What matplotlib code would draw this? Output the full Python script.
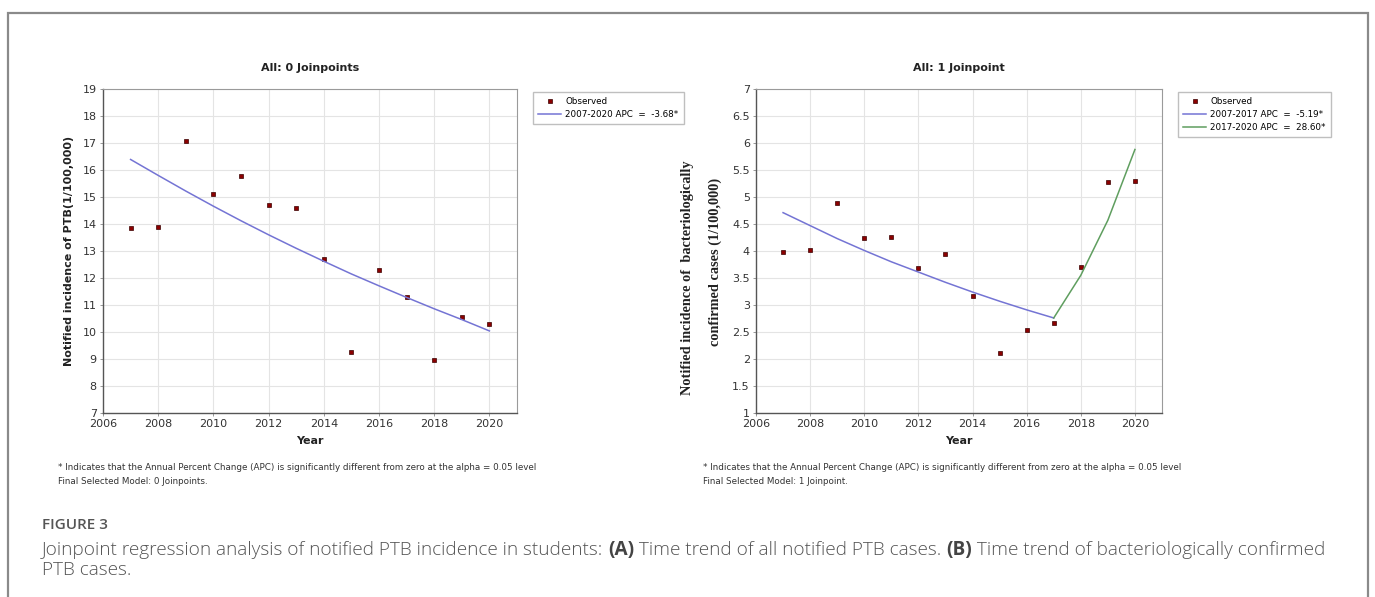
import numpy as np
import matplotlib
matplotlib.use('Agg')
import matplotlib.pyplot as plt
from matplotlib.patches import Rectangle

W, H = 1375, 597

years = [2007, 2008, 2009, 2010, 2011, 2012, 2013, 2014, 2015, 2016, 2017, 2018, 2019, 2020]

# panel A: all notified PTB
obs_a = [13.87, 13.9, 17.09, 15.1, 15.79, 14.69, 14.58, 12.69, 9.27, 12.28, 11.3, 8.97, 10.55, 10.3]
fit_a = [16.39, 15.8, 15.22, 14.66, 14.12, 13.6, 13.1, 12.62, 12.15, 11.71, 11.28, 10.86, 10.46, 10.04]
lab_a = '2007-2020 APC  =  -3.68*'

# panel B: bacteriologically confirmed
obs_b = [3.99, 4.02, 4.89, 4.25, 4.26, 3.68, 3.95, 3.16, 2.12, 2.54, 2.66, 3.71, 5.28, 5.30]
fit_b1_years = [2007, 2008, 2009, 2010, 2011, 2012, 2013, 2014, 2015, 2016, 2017]
fit_b1 = [4.71, 4.47, 4.23, 4.01, 3.80, 3.61, 3.42, 3.24, 3.07, 2.91, 2.76]
fit_b2_years = [2017, 2018, 2019, 2020]
fit_b2 = [2.76, 3.55, 4.57, 5.88]
lab_b1 = '2007-2017 APC  =  -5.19*'
lab_b2 = '2017-2020 APC  =  28.60*'

foot1 = '* Indicates that the Annual Percent Change (APC) is significantly different from zero at the alpha = 0.05 level'

fig = plt.figure(figsize=(W/100, H/100), dpi=100)

def fx(px): return px/W
def fy(py): return 1 - py/H

# outer frame
fig.patches.append(Rectangle((fx(8), fy(H+5)), fx(1368)-fx(8), fy(13)-fy(H+5),
                             transform=fig.transFigure, fill=False, ec='#8a8a8a', lw=1.6))

def style_axes(ax, ylim, yticks, ytl):
    ax.set_xlim(2006, 2021)
    ax.set_ylim(*ylim)
    ax.set_xticks(range(2006, 2021, 2))
    ax.set_yticks(yticks)
    ax.set_yticklabels(ytl)
    ax.grid(True, color='#e4e4e4', lw=0.8)
    ax.set_axisbelow(True)
    for s in ['top', 'right']:
        ax.spines[s].set_color('#9a9a9a'); ax.spines[s].set_linewidth(0.8)
    for s in ['left', 'bottom']:
        ax.spines[s].set_color('#555555'); ax.spines[s].set_linewidth(1.0)
    ax.tick_params(length=2.5, width=0.6, color='#888888', labelsize=8, labelcolor='#333333', pad=2)
    ax.set_xlabel('Year', fontsize=8, fontweight='bold', color='#222222', labelpad=5)

mk = dict(marker='s', ms=3.2, mfc='#8b0000', mec='#3a0000', mew=0.5, ls='none')
leg_kw = dict(loc='upper left', bbox_transform=fig.transFigure, borderaxespad=0, fontsize=6.3,
              frameon=True, fancybox=False, edgecolor='#b0b0b0', handlelength=2.6, handletextpad=0.5,
              labelspacing=0.45, borderpad=0.6, markerscale=0.8)

# ---- panel A
axA = fig.add_axes([fx(103), fy(413), fx(517)-fx(103), fy(89)-fy(413)])
axA.plot(years, obs_a, label='Observed', **mk)
axA.plot(years, fit_a, color='#7474d4', lw=1.1, label=lab_a)
style_axes(axA, (7, 19), range(7, 20), [str(v) for v in range(7, 20)])
axA.set_ylabel('Notified incidence of PTB(1/100,000)', fontsize=8, fontweight='bold', color='#222222', labelpad=6)
axA.legend(bbox_to_anchor=(fx(533), fy(92)), **leg_kw)
fig.text(fx(310), fy(68), 'All: 0 Joinpoints', ha='center', va='center', fontsize=8, fontweight='bold', color='#222222')

# ---- panel B
axB = fig.add_axes([fx(756), fy(413), fx(1162)-fx(756), fy(89)-fy(413)])
axB.plot(years, obs_b, label='Observed', **mk)
axB.plot(fit_b1_years, fit_b1, color='#7474d4', lw=1.1, label=lab_b1)
axB.plot(fit_b2_years, fit_b2, color='#5f9e5f', lw=1.1, label=lab_b2)
yb = np.arange(1, 7.01, 0.5)
style_axes(axB, (1, 7), yb, ['%g' % v for v in yb])
axB.legend(bbox_to_anchor=(fx(1178), fy(92)), **leg_kw)
fig.text(fx(959), fy(68), 'All: 1 Joinpoint', ha='center', va='center', fontsize=8, fontweight='bold', color='#222222')
fig.text(fx(688), fy(278), 'Notified incidence of  bacteriologically', rotation=90, ha='center', va='center',
         fontsize=10.3, fontweight='bold', family='Liberation Serif', color='#222222')
fig.text(fx(715), fy(262), 'confirmed cases (1/100,000)', rotation=90, ha='center', va='center',
         fontsize=10.3, fontweight='bold', family='Liberation Serif', color='#222222')

# footnotes
for x0, model in [(58, 'Final Selected Model: 0 Joinpoints.'), (703, 'Final Selected Model: 1 Joinpoint.')]:
    fig.text(fx(x0), fy(467), foot1, ha='left', va='center', fontsize=6.3, family='Liberation Sans Narrow', color='#333333')
    fig.text(fx(x0), fy(482), model, ha='left', va='center', fontsize=6.3, family='Liberation Sans Narrow', color='#333333')

# caption
fig.text(fx(42), fy(525), 'FIGURE 3', ha='left', va='center', fontsize=11, fontweight='semibold',
         family='Open Sans', color='#555555')

renderer = fig.canvas.get_renderer()
def rich_line(x0, y0, parts, size):
    x = fx(x0)
    for txt, bold in parts:
        t = fig.text(x, fy(y0), txt, ha='left', va='center', fontsize=size, family='Open Sans',
                     fontweight='bold' if bold else 'light', color='#555555' if not bold else '#444444')
        bb = t.get_window_extent(renderer=renderer)
        x = fig.transFigure.inverted().transform((bb.x1, bb.y0))[0]

cap_size = 13.65
rich_line(42, 550, [('Joinpoint regression analysis of notified PTB incidence in students: ', False), ('(A)', True),
                    (' Time trend of all notified PTB cases. ', False), ('(B)', True),
                    (' Time trend of bacteriologically confirmed', False)], cap_size)
rich_line(42, 570, [('PTB cases.', False)], cap_size)

fig.savefig('out.png', dpi=100)
